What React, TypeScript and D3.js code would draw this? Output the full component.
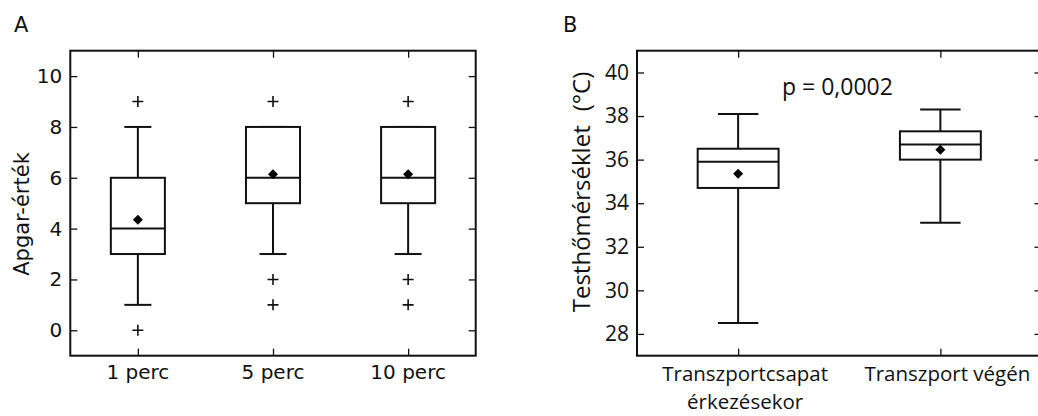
import React, { useEffect, useRef } from 'react'
import * as d3 from 'd3'

// panel A: Apgar scores
const apgarCategories = ['1 perc', '5 perc', '10 perc']
const apgarQ1 = [3, 5, 5]
const apgarMedian = [4, 6, 6]
const apgarQ3 = [6, 8, 8]
const apgarLow = [1, 3, 3]
const apgarHigh = [8, 8, 8]
const apgarMean = [4.35, 6.14, 6.14]
const apgarFliers = [[0, 9], [1, 2, 9], [1, 2, 9]]
const apgarTicks = [0, 2, 4, 6, 8, 10]

// panel B: body temperature
const tempCategories = [['Transzportcsapat', 'érkezésekor'], ['Transzport végén']]
const tempQ1 = [34.7, 36.0]
const tempMedian = [35.9, 36.7]
const tempQ3 = [36.5, 37.3]
const tempLow = [28.5, 33.1]
const tempHigh = [38.1, 38.3]
const tempMean = [35.35, 36.45]
const tempTicks = [28, 30, 32, 34, 36, 38, 40]

const W = 1038
const H = 416
const TOP = 50.7
const BOTTOM = 355.7

const drawPanel = (svg, opts) => {
    const { left, right, xDomain, yDomain, ticks, q1, med, q3, low, high, mean, fliers, font, tickFont } = opts
    const n = q1.length
    const x = d3.scaleLinear().domain(xDomain).range([left, right])
    const y = d3.scaleLinear().domain(yDomain).range([BOTTOM, TOP])
    const positions = d3.range(1, n + 1)
    const g = svg.append('g')

    // ticks on all four sides, pointing inwards
    g.append('g').attr('transform', `translate(${left},0)`)
        .call(d3.axisLeft(y).tickValues(ticks).tickSizeInner(-7).tickSizeOuter(0).tickPadding(8))
    g.append('g').attr('transform', `translate(${right},0)`)
        .call(d3.axisRight(y).tickValues(ticks).tickSizeInner(-7).tickSizeOuter(0).tickFormat(() => ''))
    g.append('g').attr('transform', `translate(0,${TOP})`)
        .call(d3.axisTop(x).tickValues(positions).tickSizeInner(-7).tickSizeOuter(0).tickFormat(() => ''))
    g.append('g').attr('transform', `translate(0,${BOTTOM})`)
        .call(d3.axisBottom(x).tickValues(positions).tickSizeInner(-7).tickSizeOuter(0).tickFormat(() => ''))
    g.selectAll('.domain').remove()
    g.selectAll('.tick line').attr('stroke', '#111').attr('stroke-width', 1.3)
    g.selectAll('.tick text').attr('font-family', font).attr('font-size', tickFont).attr('fill', '#111')

    g.append('rect')
        .attr('x', left).attr('y', TOP)
        .attr('width', right - left).attr('height', BOTTOM - TOP)
        .attr('fill', 'none').attr('stroke', '#111').attr('stroke-width', 2)

    const boxW = x(1.2) - x(1)
    const capW = x(1.1) - x(1)
    const line = (x1, y1, x2, y2) => g.append('line')
        .attr('x1', x1).attr('y1', y1).attr('x2', x2).attr('y2', y2)
        .attr('stroke', '#111').attr('stroke-width', 2)

    positions.forEach((p, i) => {
        const cx = x(p)
        line(cx, y(q3[i]), cx, y(high[i]))
        line(cx, y(q1[i]), cx, y(low[i]))
        line(cx - capW, y(high[i]), cx + capW, y(high[i]))
        line(cx - capW, y(low[i]), cx + capW, y(low[i]))
        g.append('rect')
            .attr('x', cx - boxW).attr('y', y(q3[i]))
            .attr('width', boxW * 2).attr('height', y(q1[i]) - y(q3[i]))
            .attr('fill', 'white').attr('stroke', '#111').attr('stroke-width', 2)
        line(cx - boxW, y(med[i]), cx + boxW, y(med[i]))
        g.append('path')
            .attr('d', d3.symbol(d3.symbolSquare, 50)())
            .attr('transform', `translate(${cx},${y(mean[i])}) rotate(45)`)
            .attr('fill', '#000')
        ;(fliers[i] || []).forEach(v => {
            g.append('path')
                .attr('d', `M${cx - 5.5},${y(v)}H${cx + 5.5}M${cx},${y(v) - 5.5}V${y(v) + 5.5}`)
                .attr('stroke', '#111').attr('stroke-width', 1.6).attr('fill', 'none')
        })
    })
    return x
}

export default function App() {
    const ref = useRef(null)

    useEffect(() => {
        const svg = d3.select(ref.current)
        svg.selectAll('*').remove()

        // A
        const xa = drawPanel(svg, {
            left: 70.3, right: 475.7, xDomain: [0.5, 3.5], yDomain: [-1, 11], ticks: apgarTicks,
            q1: apgarQ1, med: apgarMedian, q3: apgarQ3, low: apgarLow, high: apgarHigh,
            mean: apgarMean, fliers: apgarFliers, font: 'DejaVu Sans', tickFont: 20
        })
        svg.selectAll('.xa').data(apgarCategories).enter().append('text')
            .attr('x', (d, i) => xa(i + 1)).attr('y', 379)
            .attr('text-anchor', 'middle').attr('font-family', 'DejaVu Sans').attr('font-size', 20)
            .attr('fill', '#111').text(d => d)
        svg.append('text').attr('transform', 'translate(28.5,214) rotate(-90)')
            .attr('text-anchor', 'middle').attr('font-family', 'DejaVu Sans').attr('font-size', 21)
            .attr('fill', '#111').text('Apgar-érték')
        svg.append('text').attr('x', 14).attr('y', 32)
            .attr('font-family', 'DejaVu Sans').attr('font-size', 21).attr('fill', '#111').text('A')

        // B
        const xb = drawPanel(svg, {
            left: 637, right: 1041.5, xDomain: [0.5, 2.5], yDomain: [27, 41], ticks: tempTicks,
            q1: tempQ1, med: tempMedian, q3: tempQ3, low: tempLow, high: tempHigh,
            mean: tempMean, fliers: [], font: 'Open Sans', tickFont: 21
        })
        tempCategories.forEach((lines, i) => {
            lines.forEach((t, j) => {
                svg.append('text')
                    .attr('x', xb(i + 1) + 7).attr('y', 381 + j * 28)
                    .attr('text-anchor', 'middle').attr('font-family', 'Open Sans').attr('font-size', 20.5)
                    .attr('fill', '#111').text(t)
            })
        })
        const yl = svg.append('text').attr('transform', 'translate(590,192) rotate(-90)')
            .attr('text-anchor', 'middle').attr('font-family', 'Open Sans').attr('font-size', 24)
            .attr('fill', '#111')
        yl.append('tspan').text('Testhőmérséklet')
        yl.append('tspan').attr('dx', 14).text('(°C)')
        svg.append('text').attr('x', 782).attr('y', 95)
            .attr('font-family', 'Open Sans').attr('font-size', 23).attr('fill', '#111').text('p = 0,0002')
        svg.append('text').attr('x', 563).attr('y', 32)
            .attr('font-family', 'DejaVu Sans').attr('font-size', 21).attr('fill', '#111').text('B')
    }, [])

    return (
        <svg ref={ref} width={W} height={H}
            style={{ position: 'absolute', left: 0, top: 0, background: 'white' }} />
    )
}
